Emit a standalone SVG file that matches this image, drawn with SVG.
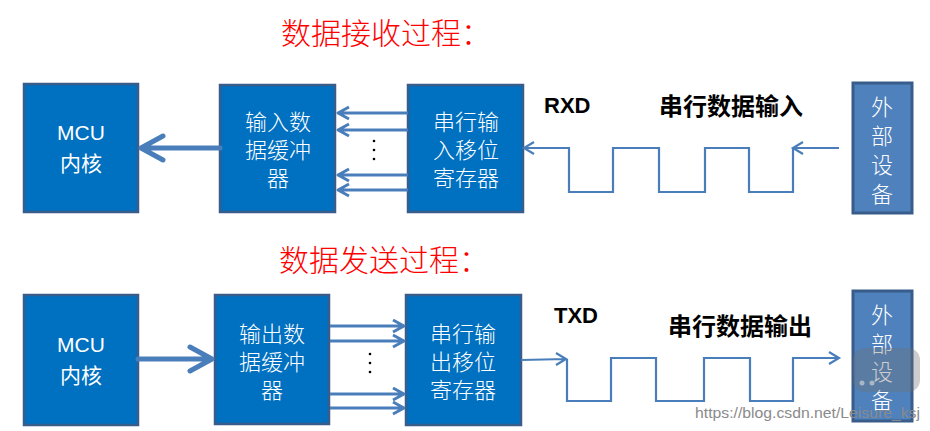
<svg xmlns="http://www.w3.org/2000/svg" width="930" height="431" viewBox="0 0 930 431">
<style>
.box{fill:#0070C0;stroke:#385D8A;stroke-width:2.5}
.ext{fill:#4F81BD;stroke:#385D8A;stroke-width:3}
.wt{fill:#fff;font-family:"Noto Sans CJK SC","Liberation Sans",sans-serif;font-size:22px;text-anchor:middle;font-weight:300}
.mcu{fill:#fff;font-family:"Liberation Sans","Noto Sans CJK SC",sans-serif;font-size:21px;text-anchor:middle}
.title{fill:#FF0000;font-family:"Noto Sans CJK SC",sans-serif;font-size:30px;font-weight:300}
.lbl{fill:#000;font-family:"Liberation Sans",sans-serif;font-size:22px;font-weight:bold}
.cjk{fill:#000;font-family:"Noto Sans CJK SC",sans-serif;font-size:24px;font-weight:bold}
.thick{fill:none;stroke:#4A7EBB;stroke-width:5;stroke-linecap:round;stroke-linejoin:round}
.thin{fill:none;stroke:#4A7EBB;stroke-width:3;stroke-linejoin:round}
.sig{fill:none;stroke:#4A7EBB;stroke-width:2.2;stroke-linejoin:miter}
.dot{fill:#000}
</style>

<text class="title" x="281" y="44">数据接收过程：</text>
<text class="title" x="279" y="271">数据发送过程：</text>

<g id="mcu-rx">
<rect class="box" x="24" y="84" width="114" height="128"/>
<text class="mcu" x="81" y="140">MCU</text>
<text class="mcu" x="81" y="171">内核</text>
</g>
<g id="buf-in">
<rect class="box" x="220" y="85" width="115" height="127"/>
<text class="wt" x="278" y="130">输入数</text>
<text class="wt" x="278" y="158">据缓冲</text>
<text class="wt" x="278" y="186">器</text>
</g>
<g id="sr-in">
<rect class="box" x="408" y="85" width="115" height="127"/>
<text class="wt" x="466" y="130">串行输</text>
<text class="wt" x="466" y="158">入移位</text>
<text class="wt" x="466" y="186">寄存器</text>
</g>
<g id="ext-rx">
<rect class="ext" x="853" y="83" width="59" height="130"/>
<text class="wt" x="882" y="115">外</text>
<text class="wt" x="882" y="144">部</text>
<text class="wt" x="882" y="173">设</text>
<text class="wt" x="882" y="202">备</text>
</g>

<g id="mcu-tx">
<rect class="box" x="24" y="295" width="114" height="130"/>
<text class="mcu" x="81" y="352">MCU</text>
<text class="mcu" x="81" y="383">内核</text>
</g>
<g id="buf-out">
<rect class="box" x="215" y="295" width="114" height="129"/>
<text class="wt" x="272" y="342">输出数</text>
<text class="wt" x="272" y="370">据缓冲</text>
<text class="wt" x="272" y="398">器</text>
</g>
<g id="sr-out">
<rect class="box" x="406" y="295" width="115" height="130"/>
<text class="wt" x="463" y="342">串行输</text>
<text class="wt" x="463" y="370">出移位</text>
<text class="wt" x="463" y="398">寄存器</text>
</g>
<g id="ext-tx">
<rect class="ext" x="853" y="291" width="59" height="130"/>
<text class="wt" x="882" y="323">外</text>
<text class="wt" x="882" y="352">部</text>
<text class="wt" x="882" y="380">设</text>
<text class="wt" x="882" y="408">备</text>
</g>

<text class="lbl" x="544" y="113">RXD</text>
<text class="cjk" x="659" y="115">串行数据输入</text>
<text class="lbl" x="554" y="323">TXD</text>
<text class="cjk" x="668" y="335">串行数据输出</text>

<g id="connectors">
<!-- receive -->
<path class="thick" d="M220,148 H142 M163,136 L141,148 L163,160"/>
<path class="thin" d="M408,113 H338 M349,107 L338,113 L349,119"/>
<path class="thin" d="M408,130 H338 M349,124 L338,130 L349,136"/>
<path class="thin" d="M408,175 H338 M349,169 L338,175 L349,181"/>
<path class="thin" d="M408,190 H338 M349,184 L338,190 L349,196"/>
<circle class="dot" cx="374" cy="141" r="1.3"/>
<circle class="dot" cx="374" cy="150" r="1.3"/>
<circle class="dot" cx="374" cy="159" r="1.3"/>
<path class="sig" d="M839,148 H793 M803,142 L793,148 L803,154"/>
<path class="sig" d="M793,148 V192 H749 V148 H705 V192 H659 V148 H613 V192 H569 V148 H524 M534,142 L524,148 L534,154"/>
<!-- transmit -->
<path class="thick" d="M138,359 H211 M190,347 L212,359 L190,371"/>
<path class="thin" d="M330,326 H404 M393,320 L404,326 L393,332"/>
<path class="thin" d="M330,341 H404 M393,335 L404,341 L393,347"/>
<path class="thin" d="M330,394 H404 M393,388 L404,394 L393,400"/>
<path class="thin" d="M330,408 H404 M393,402 L404,408 L393,414"/>
<circle class="dot" cx="370" cy="354" r="1.3"/>
<circle class="dot" cx="370" cy="363" r="1.3"/>
<circle class="dot" cx="370" cy="372" r="1.3"/>
<path class="sig" d="M521,360 L566,359 M556,353 L566,359 L556,365"/>
<path class="sig" d="M567,359 V401 H611 V358 H656 V401 H704 V358 H750 V401 H793 V358 H839 M829,352 L839,358 L829,364"/>
</g>

<g id="watermark">
<rect x="853" y="348" width="67" height="44" rx="12" fill="#6f6f6f" opacity="0.35"/>
<circle cx="862" cy="383" r="2.5" fill="#dddddd" opacity="0.6"/>
<circle cx="872" cy="383" r="2.5" fill="#dddddd" opacity="0.6"/>
<text x="695" y="418" font-family="Liberation Sans, sans-serif" font-size="15" fill="#8a8a8a" textLength="225" lengthAdjust="spacingAndGlyphs">https://blog.csdn.net/Leisure_ksj</text>
</g>
</svg>
